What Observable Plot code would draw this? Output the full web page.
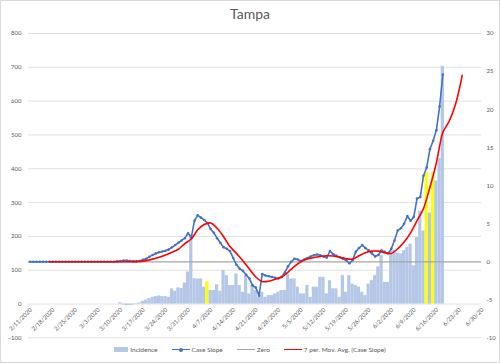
<!DOCTYPE html>
<html>
<head>
<meta charset="utf-8">
<script src="https://cdn.jsdelivr.net/npm/d3@7"></script>
<script src="https://cdn.jsdelivr.net/npm/@observablehq/plot@0.6"></script>
<style>
  html, body { margin: 0; padding: 0; background: #fff; }
  #wrap { position: relative; width: 498px; height: 361px; border: 1px solid #d9d9d9; overflow: hidden; font-family: Lato, "Liberation Sans", sans-serif; color: #595959; }
  #title { position: absolute; left: 0; top: 4px; width: 498px; text-align: center; font-size: 14px; line-height: 18px; }
  #chart { position: absolute; left: -1px; top: 25px; }
  #legend { position: absolute; left: 0; top: 345px; width: 498px; display: flex; justify-content: center; align-items: center; gap: 14px; font-size: 6.5px; }
  .item { display: flex; align-items: center; gap: 2px; }
  .sw { position: relative; width: 14px; height: 5px; }
</style>
</head>
<body>
<div id="wrap">
  <div id="title">Tampa</div>
  <div id="chart"></div>
  <div id="legend"></div>
</div>
<script>
// ---------------- data ----------------
const startDate = "2020-02-11";

// daily incidence (left axis), from 2/11/2020
const incidence = [
  0,0,0,0,0,0,0,0,0,0, 0,0,0,0,0,0,0,0,0,0, 0,0,0,0,0,0,0,0,4,-3,
  -5,-4,-3,-1,3,8,12,16,20,22, 24,22,22,20,45,38,48,46,62,95,
  205,75,74,74,50,66,40,40,57,38, 99,84,55,55,89,55,35,84,30,55,
  40,20,35,20,25,25,30,35,40,40, 89,74,74,50,30,30,55,20,50,50,
  79,79,30,69,45,45,20,84,35,84, 59,55,50,35,25,59,69,84,110,143,
  64,64,158,158,150,148,158,167,177,113, 197,275,216,388,269,388,364,430,703
];

// daily case slope (right axis), from 2/11/2020
const caseSlope = [
  0,0,0,0,0,0,0,0,0,0, 0,0,0,0,0,0,0,0,0,0, 0,0,0,0,0,0,0,0.05,0.1,0.15,
  0.15,0.1,0.05,0.05,0.1,0.25,0.4,0.65,0.9,1.1, 1.25,1.35,1.45,1.6,1.9,2.2,2.5,2.8,3.1,3.75,
  3.2,5.4,6.1,5.8,5.5,5.1,4.3,3.8,3.1,2.5, 1.9,1.7,1.4,0.5,-0.4,-0.9,-1.2,-1.7,-2.2,-3.1,
  -3.4,-4.45,-1.6,-1.8,-1.9,-2.0,-2.1,-2.2,-2.0,-1.4, -0.6,0.0,0.4,0.3,0.1,0.3,0.5,0.7,0.85,0.95,
  0.85,0.7,0.55,1.4,1.0,0.8,0.6,0.4,0.2,-0.2, 0.2,1.3,1.8,2.2,1.8,1.5,1.1,0.7,0.9,1.5,
  1.3,1.1,1.7,2.8,4.1,4.4,5.0,6.0,5.4,5.9, 8.3,8.5,11.3,12.4,14.8,15.9,17.3,20.4,24.6
];

// 7 per. moving average of case slope (right axis): day index from 2/11/2020 and value
const maDay   = [6, 10, 20, 30, 34, 36, 38, 40, 42, 44, 46, 48, 50, 52, 54, 56, 58, 60, 62, 64, 66, 68, 70, 72, 74, 76, 78, 80, 82, 84, 86, 88, 90, 92, 94, 96, 98, 100, 102, 104, 106, 108, 110, 112, 114, 116, 118, 120, 122, 124, 126, 127, 128, 130, 132, 134];
const maValue = [0, 0, 0, 0, 0.05, 0.15, 0.35, 0.6, 0.9, 1.25, 1.65, 2.4, 3.0, 4.2, 4.9, 5.1, 4.4, 3.3, 2.0, 1.1, 0.15, -0.95, -2.0, -2.6, -2.55, -2.3, -2.0, -1.35, -0.6, 0.0, 0.35, 0.55, 0.7, 0.8, 0.75, 0.6, 0.4, 0.35, 0.8, 1.2, 1.4, 1.4, 1.2, 1.1, 1.7, 2.6, 3.8, 5.4, 7.0, 9.8, 13.0, 15.2, 17.0, 18.5, 20.8, 24.5];

const zeroValue = [0];
const highlightDates = ["2020-04-06", "2020-06-13", "2020-06-15"];

const leftTicks  = [-100, 0, 100, 200, 300, 400, 500, 600, 700, 800];
const rightTicks = [-10, -5, 0, 5, 10, 15, 20, 25, 30];
const xTickLabels = ["2/11/2020","2/18/2020","2/25/2020","3/3/2020","3/10/2020","3/17/2020","3/24/2020","3/31/2020","4/7/2020","4/14/2020","4/21/2020","4/28/2020","5/5/2020","5/12/2020","5/19/2020","5/26/2020","6/2/2020","6/9/2020","6/16/2020","6/23/20","6/30/20"];

// ---------------- build ----------------
const parse = d3.utcParse("%Y-%m-%d");
const t0 = parse(startDate);
const day = i => d3.utcDay.offset(t0, i);
const half = 12 * 3600 * 1000;
const hl = new Set(highlightDates);
const fmt = d3.utcFormat("%Y-%m-%d");

// secondary (right) axis is mapped onto the left scale: -10..30 <-> -100..800
const toLeft = r => -100 + (r + 10) * 22.5;

const bars = incidence.map((v, i) => ({date: day(i), v, hl: hl.has(fmt(day(i)))}));
const slope = caseSlope.map((r, i) => ({date: day(i), r}));
const ma = maDay.map((dd, i) => ({date: day(dd), r: maValue[i]}));
const tickDates = xTickLabels.map(s => {
  const [m, d, y] = s.split("/").map(Number);
  return {date: new Date(Date.UTC(y < 100 ? 2000 + y : y, m - 1, d)), label: s};
});

const blue = "#4472C4", lightBlue = "#B4C7E7", red = "#FF0000", gray = "#A6A6A6";

const chart = Plot.plot({
  width: 500,
  height: 320,
  marginLeft: 28,
  marginRight: 18,
  marginTop: 7,
  marginBottom: 8,
  style: {fontFamily: "Lato, 'Liberation Sans', sans-serif", color: "#595959", background: "transparent"},
  x: {type: "utc", domain: [new Date(+t0 - half), d3.utcDay.offset(t0, 140)], axis: null},
  y: {domain: [-100, 800], axis: null},
  marks: [
    Plot.gridY(leftTicks, {stroke: "#d9d9d9", strokeOpacity: 1, strokeWidth: 0.8}),
    Plot.axisY({anchor: "left", ticks: leftTicks, tickSize: 0, tickPadding: 7, fontSize: 6, fill: "#595959", label: null}),
    Plot.axisY(rightTicks.map(toLeft), {anchor: "right", tickFormat: (d, i) => rightTicks[i], tickSize: 0, tickPadding: 5, fontSize: 6, fill: "#595959", label: null}),
    Plot.rectY(bars, {x1: d => new Date(+d.date - half), x2: d => new Date(+d.date + half), y1: 0, y2: "v", fill: d => d.hl ? "#FFFF00" : lightBlue}),
    Plot.ruleY(zeroValue.map(toLeft), {stroke: gray, strokeWidth: 1.3}),
    Plot.text(tickDates, {x: "date", y: () => 0, text: "label", rotate: -45, textAnchor: "end", fontSize: 6, fill: "#595959", dx: 1, dy: 5}),
    Plot.line(slope, {x: "date", y: d => toLeft(d.r), stroke: blue, strokeWidth: 1.6}),
    Plot.dot(slope, {x: "date", y: d => toLeft(d.r), r: 1.3, fill: blue, stroke: "none"}),
    Plot.line(ma, {x: "date", y: d => toLeft(d.r), stroke: red, strokeWidth: 1.6, curve: "catmull-rom"})
  ]
});
document.getElementById("chart").appendChild(chart);

// legend
const legendItems = [
  {label: "Incidence", kind: "bar", color: lightBlue},
  {label: "Case Slope", kind: "lineDot", color: blue},
  {label: "Zero", kind: "line", color: gray},
  {label: "7 per. Mov. Avg. (Case Slope)", kind: "line", color: red}
];
const lg = document.getElementById("legend");
for (const it of legendItems) {
  const el = document.createElement("div");
  el.className = "item";
  const sw = document.createElement("div");
  sw.className = "sw";
  if (it.kind === "bar") {
    sw.innerHTML = `<div style="position:absolute;left:0;top:0;width:14px;height:5px;background:${it.color}"></div>`;
  } else {
    sw.style.width = "18px";
    sw.innerHTML = `<div style="position:absolute;left:0;top:1.5px;width:18px;height:1.6px;background:${it.color}"></div>` +
      (it.kind === "lineDot" ? `<div style="position:absolute;left:7px;top:0.5px;width:4px;height:4px;border-radius:2px;background:${it.color}"></div>` : "");
  }
  const tx = document.createElement("span");
  tx.textContent = it.label;
  el.appendChild(sw);
  el.appendChild(tx);
  lg.appendChild(el);
}
</script>
</body>
</html>
